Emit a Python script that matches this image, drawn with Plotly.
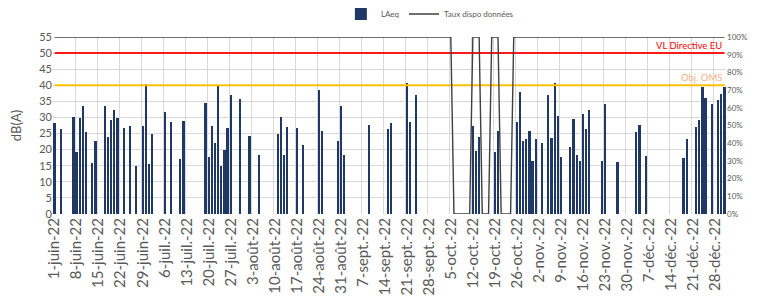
import plotly.graph_objects as go
import pandas as pd

# ---------------- data ----------------
days = pd.date_range("2022-06-01", "2022-12-31", freq="D")

laeq_dates = [
    "2022-06-01", "2022-06-03", "2022-06-07", "2022-06-08", "2022-06-09", "2022-06-10",
    "2022-06-11", "2022-06-13", "2022-06-14", "2022-06-17", "2022-06-18", "2022-06-19",
    "2022-06-20", "2022-06-21", "2022-06-23", "2022-06-25", "2022-06-27", "2022-06-29",
    "2022-06-30", "2022-07-01", "2022-07-02", "2022-07-06", "2022-07-08", "2022-07-11",
    "2022-07-12", "2022-07-19", "2022-07-20", "2022-07-21", "2022-07-22", "2022-07-23",
    "2022-07-24", "2022-07-25", "2022-07-26", "2022-07-27", "2022-07-30", "2022-08-02",
    "2022-08-05", "2022-08-11", "2022-08-12", "2022-08-13", "2022-08-14", "2022-08-17",
    "2022-08-19", "2022-08-24", "2022-08-25", "2022-08-30", "2022-08-31", "2022-09-01",
    "2022-09-09", "2022-09-15", "2022-09-16", "2022-09-21", "2022-09-22", "2022-09-24",
    "2022-10-12", "2022-10-13", "2022-10-14", "2022-10-19", "2022-10-20", "2022-10-26",
    "2022-10-27", "2022-10-28", "2022-10-29", "2022-10-30", "2022-10-31", "2022-11-01",
    "2022-11-03", "2022-11-05", "2022-11-06", "2022-11-07", "2022-11-08", "2022-11-09",
    "2022-11-12", "2022-11-13", "2022-11-14", "2022-11-15", "2022-11-16", "2022-11-17",
    "2022-11-18", "2022-11-22", "2022-11-23", "2022-11-27", "2022-12-03", "2022-12-04",
    "2022-12-06", "2022-12-18", "2022-12-19", "2022-12-22", "2022-12-23", "2022-12-24",
    "2022-12-25", "2022-12-27", "2022-12-29", "2022-12-30", "2022-12-31",
]
laeq_values = [
    28.3, 26.5, 30.1, 19.2, 29.9, 33.7,
    25.5, 16.0, 22.8, 33.6, 24.0, 29.2,
    32.4, 29.8, 26.7, 27.3, 15.0, 27.5,
    40.5, 15.5, 24.8, 31.8, 28.6, 17.1,
    28.8, 34.6, 17.8, 27.2, 22.0, 39.7,
    14.9, 19.9, 26.6, 37.0, 35.8, 24.2,
    18.4, 25.0, 30.1, 18.3, 26.9, 26.6,
    21.5, 38.5, 25.9, 22.8, 33.7, 18.2,
    27.7, 26.5, 28.4, 40.6, 28.6, 36.9,
    27.2, 19.7, 24.0, 19.2, 25.8, 28.5,
    38.0, 22.7, 23.2, 25.9, 16.5, 23.4,
    22.1, 37.1, 23.6, 40.7, 30.3, 17.7,
    20.8, 29.5, 18.2, 16.5, 31.0, 26.5,
    32.3, 16.4, 34.3, 16.2, 25.4, 27.7,
    17.9, 17.4, 23.4, 27.1, 29.3, 39.5,
    36.1, 34.2, 35.4, 37.3, 39.5,
]

# daily data availability (1 = 100 %)
dispo_juin = [1, 1, 1, 1, 1, 1, 1, 1, 1, 1, 1, 1, 1, 1, 1, 1, 1, 1, 1, 1, 1, 1, 1, 1, 1, 1, 1, 1, 1, 1]
dispo_juil = [1, 1, 1, 1, 1, 1, 1, 1, 1, 1, 1, 1, 1, 1, 1, 1, 1, 1, 1, 1, 1, 1, 1, 1, 1, 1, 1, 1, 1, 1, 1]
dispo_aout = [1, 1, 1, 1, 1, 1, 1, 1, 1, 1, 1, 1, 1, 1, 1, 1, 1, 1, 1, 1, 1, 1, 1, 1, 1, 1, 1, 1, 1, 1, 1]
dispo_sept = [1, 1, 1, 1, 1, 1, 1, 1, 1, 1, 1, 1, 1, 1, 1, 1, 1, 1, 1, 1, 1, 1, 1, 1, 1, 1, 1, 1, 1, 1]
dispo_oct = [1, 1, 1, 1, 1, 0, 0, 0, 0, 0, 0, 1, 1, 1, 0, 0, 0, 1, 1, 1, 0, 0, 0, 0, 1, 1, 1, 1, 1, 1, 1]
dispo_nov = [1, 1, 1, 1, 1, 1, 1, 1, 1, 1, 1, 1, 1, 1, 1, 1, 1, 1, 1, 1, 1, 1, 1, 1, 1, 1, 1, 1, 1, 1]
dispo_dec = [1, 1, 1, 1, 1, 1, 1, 1, 1, 1, 1, 1, 1, 1, 1, 1, 1, 1, 1, 1, 1, 1, 1, 1, 1, 1, 1, 1, 1, 1, 1]
dispo = dispo_juin + dispo_juil + dispo_aout + dispo_sept + dispo_oct + dispo_nov + dispo_dec

vl_directive = 50
obj_oms = 40

tick_dates = [
    "2022-06-01", "2022-06-08", "2022-06-15", "2022-06-22", "2022-06-29", "2022-07-06",
    "2022-07-13", "2022-07-20", "2022-07-27", "2022-08-03", "2022-08-10", "2022-08-17",
    "2022-08-24", "2022-08-31", "2022-09-07", "2022-09-14", "2022-09-21", "2022-09-28",
    "2022-10-05", "2022-10-12", "2022-10-19", "2022-10-26", "2022-11-02", "2022-11-09",
    "2022-11-16", "2022-11-23", "2022-11-30", "2022-12-07", "2022-12-14", "2022-12-21",
    "2022-12-28",
]
tick_labels = [
    "1-juin-22", "8-juin-22", "15-juin-22", "22-juin-22", "29-juin-22", "6-juil.-22",
    "13-juil.-22", "20-juil.-22", "27-juil.-22", "3-août-22", "10-août-22", "17-août-22",
    "24-août-22", "31-août-22", "7-sept.-22", "14-sept.-22", "21-sept.-22", "28-sept.-22",
    "5-oct.-22", "12-oct.-22", "19-oct.-22", "26-oct.-22", "2-nov.-22", "9-nov.-22",
    "16-nov.-22", "23-nov.-22", "30-nov.-22", "7-déc.-22", "14-déc.-22", "21-déc.-22",
    "28-déc.-22",
]

# ---------------- figure ----------------
DAY = 86400000
FONT = "Lato"
GREY = "#595959"

fig = go.Figure()

fig.add_trace(go.Scatter(
    x=days, y=[vl_directive] * len(days), mode="lines",
    line=dict(color="#ff1a1a", width=2), showlegend=False, hoverinfo="skip"))
fig.add_trace(go.Scatter(
    x=days, y=[obj_oms] * len(days), mode="lines",
    line=dict(color="#ffc000", width=2), showlegend=False, hoverinfo="skip"))

fig.add_trace(go.Bar(
    x=pd.to_datetime(laeq_dates), y=laeq_values, name="LAeq",
    marker=dict(color="#1f3864", line=dict(width=0)), width=0.7 * DAY))

fig.add_trace(go.Scatter(
    x=days, y=dispo, name="Taux dispo données", mode="lines", yaxis="y2",
    line=dict(color="#404040", width=1.4)))

fig.add_annotation(x=days[-1], y=vl_directive, xref="x", yref="y",
                   text="VL Directive EU", showarrow=False,
                   xanchor="right", yanchor="bottom", yshift=0,
                   font=dict(family=FONT, size=9.5, color="#ff0000"))
fig.add_annotation(x=days[-1], y=obj_oms, xref="x", yref="y",
                   text="Obj. OMS", showarrow=False,
                   xanchor="right", yanchor="bottom", yshift=0,
                   font=dict(family=FONT, size=9.5, color="#f4b183"))

fig.update_layout(
    width=749, height=290,
    margin=dict(l=45, r=31, t=29, b=84, autoexpand=False),
    paper_bgcolor="white", plot_bgcolor="white",
    font=dict(family=FONT, color=GREY),
    bargap=0,
    showlegend=True,
    legend=dict(orientation="h", x=0.56, xanchor="center", y=1.13, yanchor="middle",
                font=dict(family=FONT, size=8, color=GREY),
                itemwidth=30, tracegroupgap=0, bgcolor="rgba(0,0,0,0)"),
    xaxis=dict(
        type="date",
        range=["2022-05-31 12:00", "2022-12-31 12:00"],
        tickmode="array", tickvals=pd.to_datetime(tick_dates), ticktext=tick_labels,
        tickangle=-90, tickfont=dict(family=FONT, size=15, color=GREY),
        showgrid=False, ticks="", automargin=False, zeroline=False,
        minor=dict(tickmode="linear", tick0="2022-05-31 12:00", dtick=7 * DAY,
                   showgrid=True, gridcolor="#d9d9d9", gridwidth=1, ticks=""),
        showline=False,
    ),
    yaxis=dict(
        range=[0, 55], dtick=5, tick0=0,
        gridcolor="#d9d9d9", gridwidth=1, zeroline=False,
        tickfont=dict(family=FONT, size=11, color=GREY),
        title=dict(text="dB(A)", font=dict(family=FONT, size=13, color=GREY), standoff=14),
        automargin=False, ticks="",
    ),
    yaxis2=dict(
        range=[0, 1], dtick=0.1, tick0=0, tickformat=".0%",
        overlaying="y", side="right", showgrid=False, zeroline=False,
        tickfont=dict(family=FONT, size=8, color=GREY),
        automargin=False, ticks="",
    ),
)

fig.write_html("out.html")
